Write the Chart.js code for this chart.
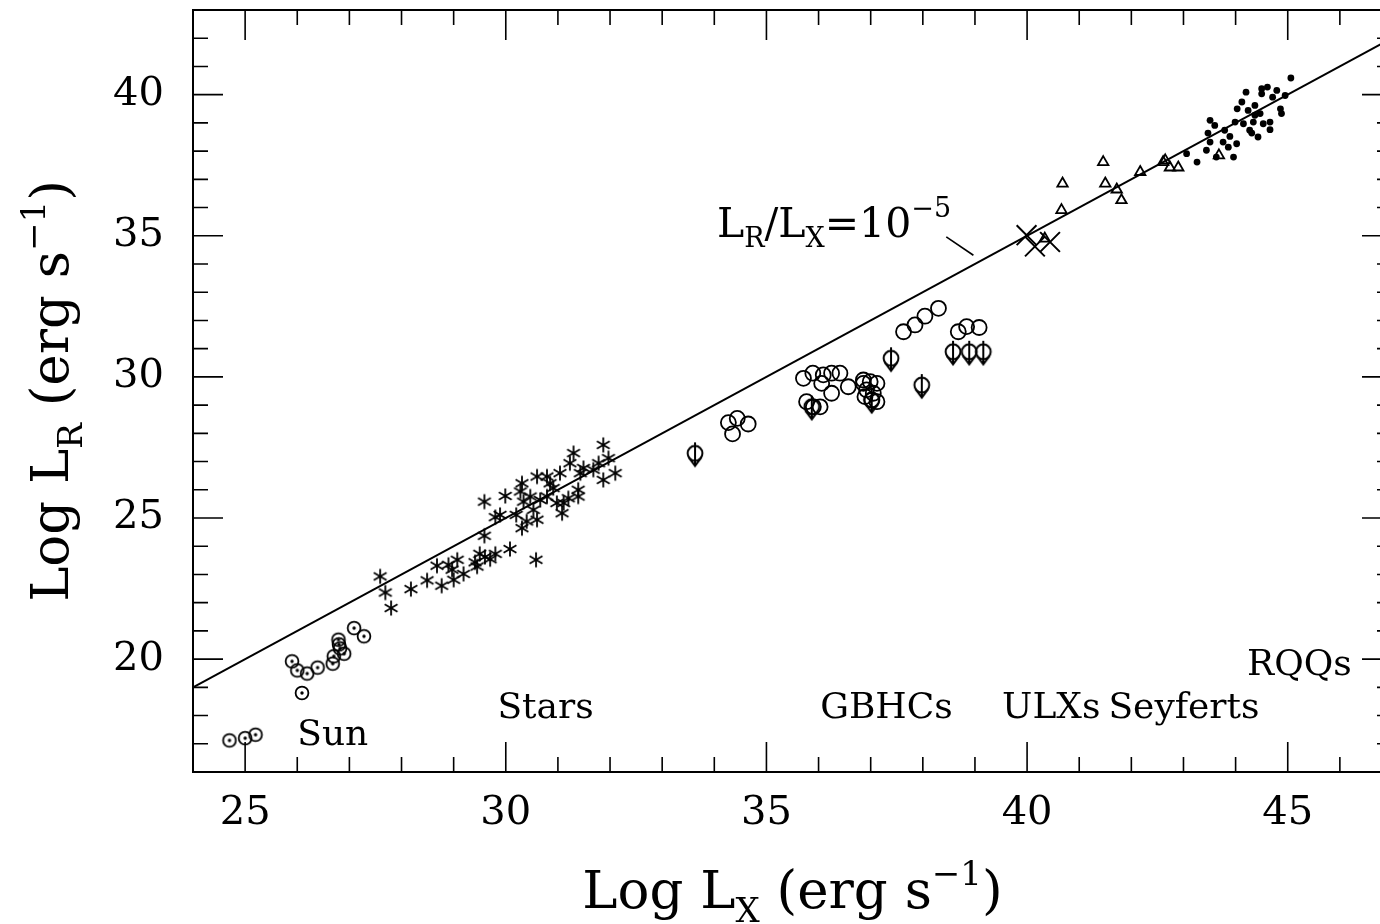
<!DOCTYPE html>
<html lang="en">
<head>
<meta charset="UTF-8" />
<title>Log LR vs Log LX</title>
<script src="https://cdn.jsdelivr.net/npm/chart.js@4.4.0/dist/chart.umd.min.js"></script>
<style>
  html, body { margin: 0; padding: 0; background: #fff; overflow: hidden; }
  .chart-box { position: relative; width: 1400px; height: 924px; }
</style>
</head>
<body>
<div class="chart-box"><canvas id="lrlx"></canvas></div>
<script>
// --- data (log erg/s) ---
const sunX = [24.7, 25.0, 25.2];
const sunY = [17.12, 17.2, 17.32];

const activeX = [25.9, 26.0, 26.19, 26.39, 26.09, 26.68, 26.7, 26.9, 26.79, 26.8, 26.82, 27.09, 27.28];
const activeY = [19.92, 19.6, 19.49, 19.7, 18.8, 19.84, 20.1, 20.19, 20.69, 20.52, 20.38, 21.1, 20.81];

const starsX = [27.59, 27.69, 27.8, 28.18, 28.49, 28.77, 28.68, 28.9, 29.07, 28.97, 29.19, 29.0, 29.41, 29.5,
  29.6, 29.7, 29.8, 29.45, 29.59, 29.59, 29.8, 29.89, 29.99, 30.08, 30.2, 30.31, 30.31, 30.28, 30.34, 30.4,
  30.47, 30.53, 30.58, 30.6, 30.6, 30.66, 30.79, 30.79, 30.85, 30.91, 30.98, 31.08, 31.04, 31.11, 31.2,
  31.23, 31.3, 31.39, 31.39, 31.43, 31.49, 31.68, 31.78, 31.87, 31.97, 31.87, 32.1];
const starsY = [22.93, 22.36, 21.81, 22.48, 22.79, 22.6, 23.31, 23.34, 23.52, 23.17, 23.02, 22.81, 23.43, 23.73,
  23.62, 23.54, 23.73, 23.28, 24.37, 25.58, 25.03, 25.11, 25.78, 23.9, 25.11, 24.64, 26.23, 25.94, 25.58, 24.88,
  25.76, 25.29, 23.52, 24.94, 26.47, 25.64, 26.47, 25.76, 26.23, 26.06, 25.53, 25.17, 26.59, 25.53, 25.7,
  26.94, 27.3, 26.0, 25.76, 26.59, 26.77, 26.71, 26.94, 27.59, 27.12, 26.35, 26.59];

const gbhcX = [34.27, 34.44, 34.65, 34.35, 35.71, 35.89, 36.09, 36.25, 36.41, 36.06, 36.25, 36.57, 35.77, 35.9,
  36.03, 36.86, 36.86, 36.99, 37.12, 36.92, 37.05, 37.02, 37.12, 36.89, 37.63, 37.85, 38.04, 38.3, 38.68,
  38.84, 39.08];
const gbhcY = [28.38, 28.53, 28.33, 27.98, 29.95, 30.13, 30.07, 30.13, 30.13, 29.77, 29.42, 29.65, 29.12, 28.94,
  28.94, 29.89, 29.77, 29.83, 29.77, 29.54, 29.42, 29.18, 29.12, 29.3, 31.6, 31.84, 32.15, 32.43, 31.6,
  31.78, 31.75];

const gbhcLimX = [33.63, 37.39, 37.98, 38.58, 38.89, 39.16, 35.87, 37.02];
const gbhcLimY = [27.29, 30.66, 29.71, 30.89, 30.89, 30.89, 28.94, 29.18];

const ulxX = [39.99, 40.15, 40.44];
const ulxY = [35.02, 34.62, 34.78];

const seyX = [40.34, 40.66, 40.68, 41.46, 41.5, 41.72, 41.81, 42.17, 42.61, 42.65, 42.74, 42.9, 43.68];
const seyY = [34.9, 35.91, 36.85, 37.61, 36.85, 36.64, 36.26, 37.26, 37.61, 37.67, 37.42, 37.42, 37.85];

const rqqX = [43.06, 43.26, 43.51, 43.47, 43.6, 43.63, 43.79, 43.44, 43.51, 43.76, 43.86, 43.89, 43.96, 44.02,
  44.03, 44.12, 44.2, 44.24, 44.15, 44.27, 44.37, 44.37, 44.34, 44.47, 44.31, 44.53, 44.66, 44.66, 44.43,
  44.5, 44.5, 44.61, 44.79, 44.71, 44.86, 44.88, 44.95, 43.99, 45.06];
const rqqY = [37.91, 37.61, 39.09, 38.64, 38.91, 37.79, 38.74, 38.03, 38.32, 38.32, 38.14, 38.52, 37.79, 38.26,
  39.5, 39.74, 40.09, 39.44, 38.97, 38.74, 39.62, 39.27, 39.03, 39.33, 38.64, 38.97, 39.03, 38.76, 38.5,
  40.03, 40.21, 40.27, 40.15, 39.91, 39.5, 39.33, 39.97, 39.03, 40.59];

// L_R / L_X = 1e-5
const relLineX = [24, 47];
const relLineY = [19, 42];

const groupNames = ["Sun", "Stars", "GBHCs", "ULXs", "Seyferts", "RQQs"];
const groupAtX = [26.0, 29.84, 36.03, 39.52, 41.56, 44.22];
const groupAtY = [16.94, 17.93, 17.93, 17.93, 17.93, 19.42];

const FONT = '"DejaVu Serif", serif';

function pts(xs, ys) {
  return xs.map((v, i) => ({ x: v, y: ys[i] }));
}

function makeMarker(w, h, draw) {
  const c = document.createElement("canvas");
  c.width = w;
  c.height = h;
  const g = c.getContext("2d");
  g.strokeStyle = "#000";
  g.fillStyle = "#000";
  g.lineWidth = 1.8;
  draw(g, w / 2, h / 2);
  return c;
}

const sunMark = makeMarker(18, 18, (g, cx, cy) => {
  g.beginPath();
  g.arc(cx, cy, 6.4, 0, Math.PI * 2);
  g.stroke();
  g.beginPath();
  g.arc(cx, cy, 1.7, 0, Math.PI * 2);
  g.fill();
});

const starMark = makeMarker(20, 20, (g, cx, cy) => {
  const r = 7.4;
  for (const deg of [90, 30, -30]) {
    const t = (deg * Math.PI) / 180;
    g.beginPath();
    g.moveTo(cx - r * Math.cos(t), cy - r * Math.sin(t));
    g.lineTo(cx + r * Math.cos(t), cy + r * Math.sin(t));
    g.stroke();
  }
});

// upper limit: circle with a downward arrow through it
const limitMark = makeMarker(22, 30, (g, cx, cy) => {
  g.lineWidth = 2;
  g.beginPath();
  g.arc(cx, cy, 7.4, 0, Math.PI * 2);
  g.stroke();
  g.beginPath();
  g.moveTo(cx, cy - 11);
  g.lineTo(cx, cy + 12.5);
  g.moveTo(cx - 6.4, cy + 3.8);
  g.lineTo(cx, cy + 12.5);
  g.lineTo(cx + 6.4, cy + 3.8);
  g.stroke();
});

// text with sub/superscripts, parts: [text, size, dy]
function drawRich(ctx, parts, x, y, align) {
  let total = 0;
  for (const p of parts) {
    ctx.font = p[1] + "px " + FONT;
    total += ctx.measureText(p[0]).width;
  }
  let cx = align === "center" ? x - total / 2 : x;
  ctx.textAlign = "left";
  ctx.textBaseline = "alphabetic";
  for (const p of parts) {
    ctx.font = p[1] + "px " + FONT;
    ctx.fillText(p[0], cx, y + (p[2] || 0));
    cx += ctx.measureText(p[0]).width;
  }
}

const decor = {
  id: "decor",
  afterDraw(chart) {
    const { ctx, chartArea: a, scales } = chart;
    const x = scales.x, y = scales.y;
    ctx.save();
    ctx.strokeStyle = "#000";
    ctx.fillStyle = "#000";

    // inward ticks on all four sides
    ctx.lineWidth = 1.6;
    ctx.beginPath();
    for (let v = Math.ceil(x.min); v <= x.max; v++) {
      const px = x.getPixelForValue(v);
      const len = v % 5 === 0 ? 30 : 15;
      ctx.moveTo(px, a.bottom); ctx.lineTo(px, a.bottom - len);
      ctx.moveTo(px, a.top); ctx.lineTo(px, a.top + len);
    }
    for (let v = Math.ceil(y.min); v <= y.max; v++) {
      const py = y.getPixelForValue(v);
      const len = v % 5 === 0 ? 30 : 15;
      ctx.moveTo(a.left, py); ctx.lineTo(a.left + len, py);
      ctx.moveTo(a.right, py); ctx.lineTo(a.right - len, py);
    }
    ctx.stroke();

    ctx.lineWidth = 2;
    ctx.strokeRect(a.left, a.top, a.right - a.left, a.bottom - a.top);

    // group names
    ctx.font = "36px " + FONT;
    ctx.textAlign = "left";
    ctx.textBaseline = "alphabetic";
    groupNames.forEach((t, i) => {
      ctx.fillText(t, x.getPixelForValue(groupAtX[i]), y.getPixelForValue(groupAtY[i]));
    });

    // ratio label and its leader
    drawRich(ctx, [["L", 41], ["R", 27, 10], ["/L", 41], ["X", 27, 10], ["=10", 41], ["\u22125", 27, -20]],
      x.getPixelForValue(34.05), y.getPixelForValue(34.96), "left");
    ctx.lineWidth = 1.6;
    ctx.beginPath();
    ctx.moveTo(x.getPixelForValue(38.45), y.getPixelForValue(34.96));
    ctx.lineTo(x.getPixelForValue(38.97), y.getPixelForValue(34.31));
    ctx.stroke();

    // axis titles
    const midX = (a.left + a.right) / 2;
    drawRich(ctx, [["Log L", 53], ["X", 34, 14], [" (erg s", 53], ["\u22121", 34, -23], [")", 53]],
      midX, 908, "center");
    ctx.translate(68, (a.top + a.bottom) / 2);
    ctx.rotate(-Math.PI / 2);
    drawRich(ctx, [["Log L", 53], ["R", 34, 14], [" (erg s", 53], ["\u22121", 34, -23], [")", 53]],
      0, 0, "center");
    ctx.restore();
  },
};

const tickLabel = (v) => (v % 5 === 0 ? String(v) : "");
const noPad = (s) => { s.paddingTop = 0; s.paddingBottom = 0; s.paddingLeft = 0; s.paddingRight = 0; };

new Chart(document.getElementById("lrlx"), {
  type: "scatter",
  data: {
    datasets: [
      { data: pts(relLineX, relLineY), type: "line", borderColor: "#000", borderWidth: 2, pointRadius: 0 },
      { data: pts(sunX, sunY), pointStyle: sunMark },
      { data: pts(activeX, activeY), pointStyle: sunMark },
      { data: pts(starsX, starsY), pointStyle: starMark },
      { data: pts(gbhcX, gbhcY), pointStyle: "circle", pointRadius: 7.5, borderWidth: 1.8,
        borderColor: "#000", backgroundColor: "rgba(0,0,0,0)" },
      { data: pts(gbhcLimX, gbhcLimY), pointStyle: limitMark },
      { data: pts(ulxX, ulxY), pointStyle: "crossRot", pointRadius: 14, borderWidth: 2, borderColor: "#000" },
      { data: pts(seyX, seyY), pointStyle: "triangle", pointRadius: 6, borderWidth: 1.8,
        borderColor: "#000", backgroundColor: "rgba(0,0,0,0)" },
      { data: pts(rqqX, rqqY), pointStyle: "circle", pointRadius: 3.4, borderWidth: 0,
        backgroundColor: "#000" },
    ],
  },
  options: {
    responsive: true,
    maintainAspectRatio: false,
    animation: false,
    layout: { autoPadding: false, padding: { top: 10, right: 8, left: 0, bottom: 0 } },
    plugins: { legend: { display: false }, tooltip: { enabled: false } },
    scales: {
      x: {
        type: "linear",
        min: 24,
        max: 47,
        grid: { display: false, drawTicks: false },
        border: { display: false },
        ticks: { stepSize: 1, autoSkip: false, maxRotation: 0, callback: tickLabel,
          color: "#000", padding: 18, font: { family: FONT, size: 40 } },
        afterFit: (s) => { s.height = 152; noPad(s); },
      },
      y: {
        type: "linear",
        min: 16,
        max: 43,
        grid: { display: false, drawTicks: false },
        border: { display: false },
        ticks: { stepSize: 1, autoSkip: false, callback: tickLabel,
          color: "#000", padding: 29, font: { family: FONT, size: 40 } },
        afterFit: (s) => { s.width = 193; noPad(s); },
      },
    },
  },
  plugins: [decor],
});
</script>
</body>
</html>
